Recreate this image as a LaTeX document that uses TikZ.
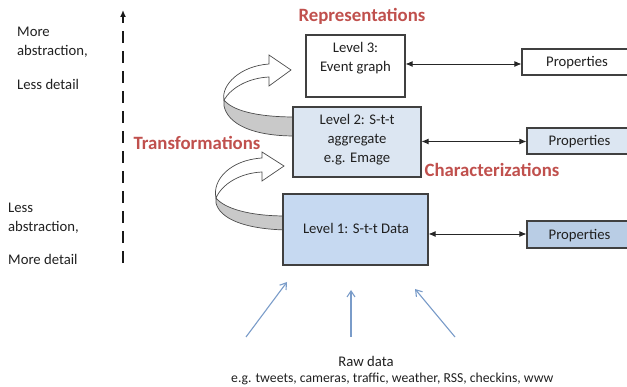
\documentclass[tikz,border=0pt]{standalone}
\usepackage{fontspec}
\setmainfont{Carlito}
\usetikzlibrary{arrows.meta}
\definecolor{redlab}{HTML}{C0504D}
\definecolor{lvtwo}{HTML}{DCE6F2}
\definecolor{lvone}{HTML}{C6D9F1}
\definecolor{propthree}{HTML}{B9CDE5}
\definecolor{rawblue}{HTML}{7A9CC9}
\definecolor{bandgray}{HTML}{C9C9C9}
\definecolor{txt}{HTML}{202020}
\tikzset{
  box/.style={draw=black!75, line width=1.1pt, inner sep=0pt},
  txtnode/.style={text=txt, font=\fontsize{14.7}{19}\selectfont, inner sep=0pt, align=center},
  lefttxt/.style={text=txt, font=\fontsize{14.7}{19}\selectfont, inner sep=0pt, anchor=west},
  redtxt/.style={text=redlab, font=\fontsize{18.8}{22}\selectfont\bfseries, inner sep=0pt},
  conn/.style={draw=black!85, line width=0.9pt, {Latex[length=7pt,width=6pt]}-{Latex[length=7pt,width=6pt]}},
  rawarrow/.style={draw=rawblue, line width=1.1pt, -{Straight Barb[length=6pt,width=8pt]}},
  curvewhite/.style={draw=black!70, line width=0.7pt, fill=white},
  curvegray/.style={draw=black!70, line width=0.7pt, fill=bandgray}
}
\begin{document}
\begin{tikzpicture}[x=1pt,y=-1pt]
\useasboundingbox (0,0) rectangle (627,387);

% curved transformation arrows (drawn first, boxes cover their ends)
\draw[curvegray] (216,198) .. controls (224,208) and (248,216) .. (286,216) -- (286,230) .. controls (245,229) and (220,219) .. (216,203) -- cycle;
\draw[curvewhite] (216,198) .. controls (212,180) and (230,160) .. (262,158) -- (262,152) -- (284,166) -- (262,181) -- (262,172) .. controls (240,173) and (222,184) .. (216,198) -- cycle;

\draw[curvegray] (224,100) .. controls (232,110) and (255,117) .. (295,117) -- (295,136) .. controls (252,136) and (228,124) .. (224,106) -- cycle;
\draw[curvewhite] (224,100) .. controls (221,85) and (240,66) .. (269,64) -- (269,55) -- (291,70) -- (269,86) -- (269,77) .. controls (248,78) and (231,88) .. (224,100) -- cycle;

% level boxes
\node[box, fill=white, minimum width=99pt, minimum height=62pt] (L3) at (355.5,66) {};
\node[txtnode] (L3t) at (355.5,58.5) {Level 3:\\Event graph};
\node[box, fill=lvtwo, minimum width=128pt, minimum height=70pt] (L2) at (357,142) {};
\node[txtnode] (L2t) at (357,140) {Level 2: S-t-t\\aggregate\\e.g. Emage};
\node[box, fill=lvone, minimum width=145pt, minimum height=71pt] (L1) at (355.5,229.5) {};
\node[txtnode] (L1t) at (356,228) {Level 1: S-t-t Data};

% properties boxes
\node[box, fill=white, minimum width=110pt, minimum height=26pt] (P3) at (577,62) {};
\node[txtnode] (P3t) at (577,63) {Properties};
\node[box, fill=lvtwo, minimum width=105pt, minimum height=26pt] (P2) at (579.5,141) {};
\node[txtnode] (P2t) at (579.5,142) {Properties};
\node[box, fill=propthree, minimum width=105pt, minimum height=27pt] (P1) at (579.5,234.5) {};
\node[txtnode] (P1t) at (579.5,235.5) {Properties};

% characterization connectors
\draw[conn] (L3.east |- 0,64) -- (P3.west |- 0,64);
\draw[conn] (L2.east |- 0,141.5) -- (P2.west |- 0,141.5);
\draw[conn] (L1.east |- 0,234) -- (P1.west |- 0,234);

% red labels
\node[redtxt] (rep) at (362,16) {Representations};
\node[redtxt] (trans) at (197,143) {Transformations};
\node[redtxt] (char) at (492,170) {Characterizations};

% abstraction axis
\coordinate (axbot) at (123,263);
\coordinate (axtop) at (123,10);
\draw[black!90, line width=2pt, dash pattern=on 12pt off 8pt, -{Latex[length=7pt,width=6pt]}] (axbot) -- (axtop);

\node[lefttxt] (t1) at (17,32) {More};
\node[lefttxt] (t2) at (17,51) {abstraction,};
\node[lefttxt] (t3) at (17,84) {Less detail};
\node[lefttxt] (t4) at (8,208) {Less};
\node[lefttxt] (t5) at (8,227) {abstraction,};
\node[lefttxt] (t6) at (8,259) {More detail};

% raw data
\node[txtnode] (raw) at (366,361) {Raw data};
\node[lefttxt, font=\fontsize{13.7}{17}\selectfont] (rawex) at (231,379) {e.g. tweets, cameras, traffic, weather, RSS, checkins, www};
\coordinate (s1) at (246,337);
\coordinate (e1) at (287,282);
\coordinate (s2) at (351,337);
\coordinate (e2) at (351,290);
\coordinate (s3) at (455,337);
\coordinate (e3) at (415,289);
\draw[rawarrow] (s1) -- (e1);
\draw[rawarrow] (s2) -- (e2);
\draw[rawarrow] (s3) -- (e3);
\end{tikzpicture}
\end{document}
